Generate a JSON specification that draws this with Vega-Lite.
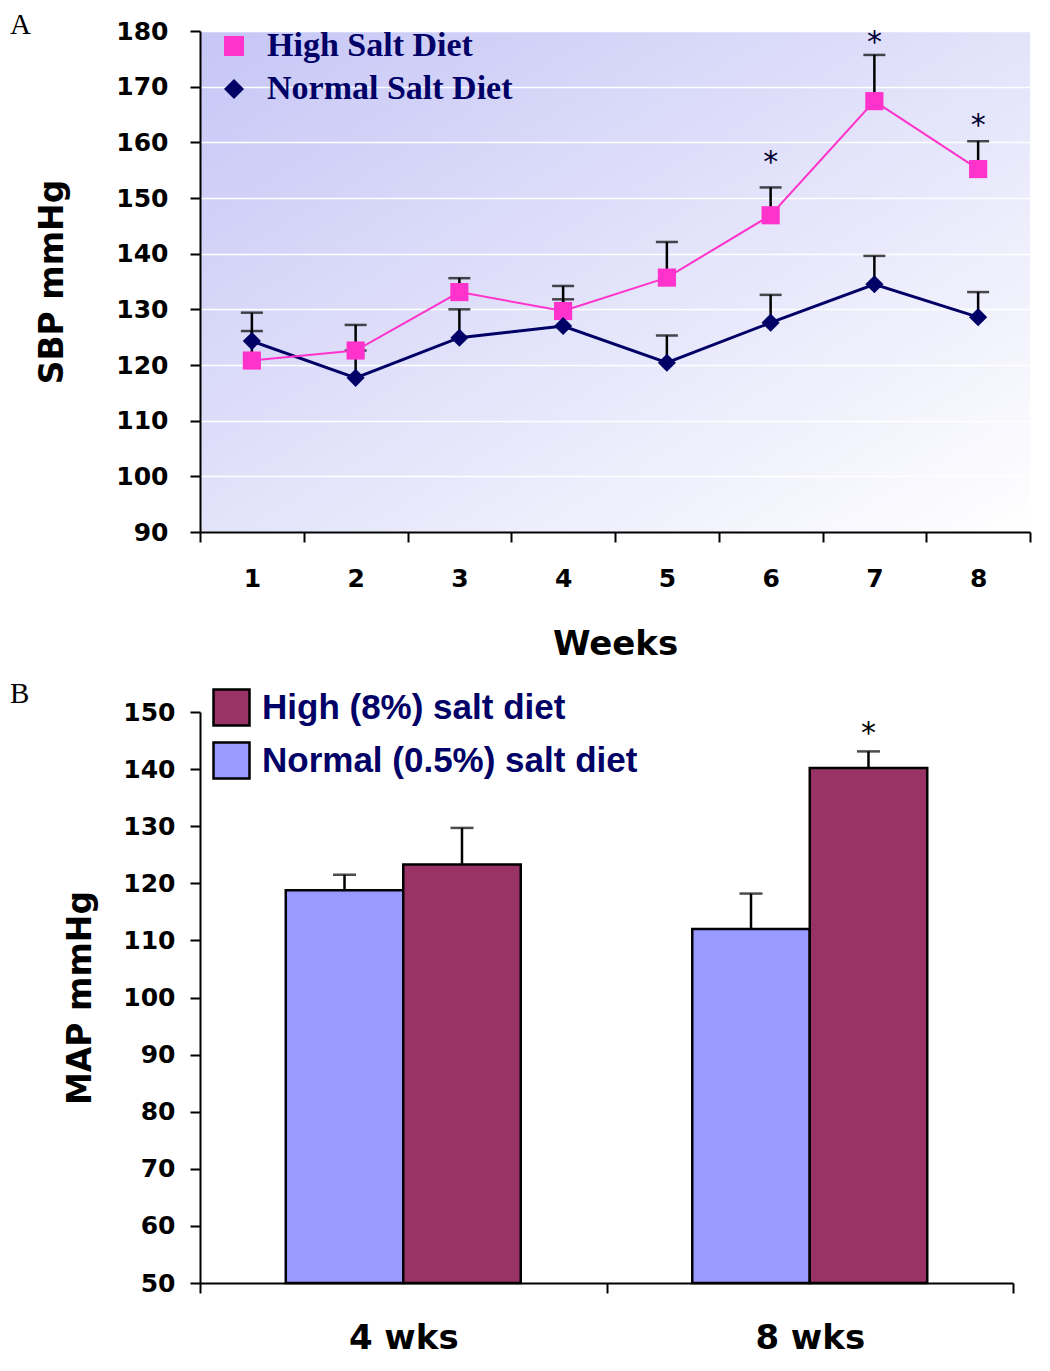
{
  "$schema": "https://vega.github.io/schema/vega-lite/v6.json",
  "background": "white",
  "padding": {"left": 10, "top": 11, "right": 10, "bottom": 5},
  "spacing": 19,
  "config": {
    "view": {"stroke": null},
    "axis": {
      "labelFont": "DejaVu Sans", "labelFontWeight": "bold", "labelColor": "black",
      "titleFont": "DejaVu Sans", "titleFontWeight": "bold", "titleColor": "black",
      "domainColor": "black", "tickColor": "black", "domainWidth": 2, "tickWidth": 2, "tickSize": 10,
      "labelAngle": 0
    },
    "title": {"font": "Liberation Serif", "fontWeight": "normal", "color": "black", "fontSize": 29, "baseline": "alphabetic"}
  },
  "resolve": {"scale": {"color": "independent", "shape": "independent", "x": "independent", "y": "independent"}},
  "vconcat": [
    {
      "width": 830,
      "height": 501,
      "title": {"text": "A", "anchor": "start", "frame": "group", "dx": -190, "offset": -3, "dy": 18},
      "view": {"fill": {"gradient": "linear", "x1": 0, "y1": 0, "x2": 1, "y2": 1, "stops": [{"offset": 0, "color": "#C6C6F6"}, {"offset": 1, "color": "#FFFFFF"}]}, "stroke": null},
      "data": {"values": [
        {"week": 1, "diet": "High Salt Diet", "sbp": 120.8, "errtop": 126.1},
        {"week": 2, "diet": "High Salt Diet", "sbp": 122.6, "errtop": 127.2},
        {"week": 3, "diet": "High Salt Diet", "sbp": 133.1, "errtop": 135.6},
        {"week": 4, "diet": "High Salt Diet", "sbp": 129.7, "errtop": 134.2},
        {"week": 5, "diet": "High Salt Diet", "sbp": 135.7, "errtop": 142.1},
        {"week": 6, "diet": "High Salt Diet", "sbp": 146.9, "errtop": 151.9, "star": 157.2},
        {"week": 7, "diet": "High Salt Diet", "sbp": 167.4, "errtop": 175.7, "star": 178.8},
        {"week": 8, "diet": "High Salt Diet", "sbp": 155.2, "errtop": 160.2, "star": 163.8},
        {"week": 1, "diet": "Normal Salt Diet", "sbp": 124.3, "errtop": 129.4},
        {"week": 2, "diet": "Normal Salt Diet", "sbp": 117.7, "errtop": 122.6},
        {"week": 3, "diet": "Normal Salt Diet", "sbp": 124.9, "errtop": 130.0},
        {"week": 4, "diet": "Normal Salt Diet", "sbp": 127.0, "errtop": 131.8},
        {"week": 5, "diet": "Normal Salt Diet", "sbp": 120.4, "errtop": 125.3},
        {"week": 6, "diet": "Normal Salt Diet", "sbp": 127.6, "errtop": 132.6},
        {"week": 7, "diet": "Normal Salt Diet", "sbp": 134.5, "errtop": 139.6},
        {"week": 8, "diet": "Normal Salt Diet", "sbp": 128.6, "errtop": 133.1}
      ]},
      "encoding": {
        "x": {
          "field": "week", "type": "ordinal",
          "scale": {"paddingInner": 0, "paddingOuter": 0},
          "axis": {"title": "Weeks", "titleFontSize": 34, "titlePadding": 36, "labelFontSize": 25, "labelPadding": 24, "tickBand": "extent", "grid": false}
        }
      },
      "layer": [
        {
          "mark": {"type": "rule", "color": "black", "strokeWidth": 2.5},
          "encoding": {
            "y": {"field": "sbp", "type": "quantitative", "scale": {"domain": [90, 180], "nice": false, "zero": false},
              "axis": {"title": "SBP mmHg", "titleFontSize": 33, "titlePadding": 46, "labelFontSize": 25, "labelPadding": 22,
                "values": [90, 100, 110, 120, 130, 140, 150, 160, 170, 180], "grid": true, "gridColor": "white", "gridWidth": 1.5, "gridOpacity": 1}},
            "y2": {"field": "errtop"}
          }
        },
        {
          "mark": {"type": "tick", "color": "black", "size": 22, "thickness": 2.5},
          "encoding": {"y": {"field": "errtop", "type": "quantitative"}}
        },
        {
          "transform": [{"filter": "datum.diet === 'Normal Salt Diet'"}],
          "mark": {"type": "line", "color": "#000066", "strokeWidth": 3},
          "encoding": {"y": {"field": "sbp", "type": "quantitative"}}
        },
        {
          "transform": [{"filter": "datum.diet === 'High Salt Diet'"}],
          "mark": {"type": "line", "color": "#FF33CC", "strokeWidth": 2},
          "encoding": {"y": {"field": "sbp", "type": "quantitative"}}
        },
        {
          "mark": {"type": "point", "filled": true, "opacity": 1, "size": 330},
          "encoding": {
            "y": {"field": "sbp", "type": "quantitative"},
            "color": {"field": "diet", "type": "nominal",
              "scale": {"domain": ["High Salt Diet", "Normal Salt Diet"], "range": ["#FF33CC", "#000066"]},
              "legend": {"title": null, "orient": "none", "legendX": 17, "legendY": -2, "labelFont": "Liberation Serif", "labelFontSize": 34, "labelFontWeight": "bold", "labelColor": "#000066", "labelLimit": 0, "symbolSize": 400, "rowPadding": 9, "labelOffset": 16, "padding": 0, "symbolOpacity": 1}},
            "shape": {"field": "diet", "type": "nominal",
              "scale": {"domain": ["High Salt Diet", "Normal Salt Diet"], "range": ["square", "diamond"]},
              "legend": {"title": null, "orient": "none", "legendX": 17, "legendY": -2, "labelFont": "Liberation Serif", "labelFontSize": 34, "labelFontWeight": "bold", "labelColor": "#000066", "labelLimit": 0, "symbolSize": 400, "rowPadding": 9, "labelOffset": 16, "padding": 0, "symbolOpacity": 1}}
          }
        },
        {
          "transform": [{"filter": "isValid(datum.star)"}],
          "mark": {"type": "text", "text": "*", "font": "DejaVu Sans", "fontSize": 30, "color": "#000033", "baseline": "middle", "dy": 5},
          "encoding": {"y": {"field": "star", "type": "quantitative"}}
        }
      ]
    },
    {
      "width": 813,
      "height": 571,
      "title": {"text": "B", "anchor": "start", "frame": "group", "dx": -190, "offset": 7, "dy": 28},
      "data": {"values": [
        {"period": "4 wks", "group": "Normal (0.5%) salt diet", "map": 118.8, "errtop": 121.5},
        {"period": "4 wks", "group": "High (8%) salt diet", "map": 123.3, "errtop": 129.7},
        {"period": "8 wks", "group": "Normal (0.5%) salt diet", "map": 112.0, "errtop": 118.2},
        {"period": "8 wks", "group": "High (8%) salt diet", "map": 140.2, "errtop": 143.1, "star": 147.6}
      ]},
      "encoding": {
        "x": {
          "field": "period", "type": "nominal",
          "scale": {"paddingInner": 0, "paddingOuter": 0},
          "axis": {"title": null, "labelFontSize": 34, "labelPadding": 28, "tickBand": "extent", "grid": false}
        },
        "xOffset": {"field": "group", "type": "nominal", "sort": ["Normal (0.5%) salt diet", "High (8%) salt diet"], "scale": {"paddingInner": 0, "paddingOuter": 0.73}}
      },
      "layer": [
        {
          "mark": {"type": "bar", "stroke": "black", "strokeWidth": 2.5, "opacity": 1},
          "encoding": {
            "y": {"field": "map", "type": "quantitative", "scale": {"domain": [50, 150], "nice": false, "zero": false},
              "axis": {"title": "MAP mmHg", "titleFontSize": 33, "titlePadding": 25, "labelFontSize": 25, "labelPadding": 15,
                "values": [50, 60, 70, 80, 90, 100, 110, 120, 130, 140, 150], "grid": false}},
            "y2": {"datum": 50},
            "color": {"field": "group", "type": "nominal",
              "scale": {"domain": ["High (8%) salt diet", "Normal (0.5%) salt diet"], "range": ["#993366", "#9999FF"]},
              "legend": {"title": null, "orient": "none", "legendX": 12, "legendY": -24, "labelFont": "Liberation Sans", "labelFontSize": 35, "labelFontWeight": "bold", "labelColor": "#000066", "labelLimit": 0, "symbolType": "square", "symbolSize": 1296, "symbolStrokeColor": "black", "symbolStrokeWidth": 2.5, "rowPadding": 6, "labelOffset": 11, "padding": 0, "symbolOpacity": 1}}
          }
        },
        {
          "mark": {"type": "rule", "color": "black", "strokeWidth": 2.5},
          "encoding": {
            "y": {"field": "map", "type": "quantitative"},
            "y2": {"field": "errtop"}
          }
        },
        {
          "mark": {"type": "tick", "color": "black", "size": 23, "thickness": 2.5},
          "encoding": {"y": {"field": "errtop", "type": "quantitative"}}
        },
        {
          "transform": [{"filter": "isValid(datum.star)"}],
          "mark": {"type": "text", "text": "*", "font": "DejaVu Sans", "fontSize": 30, "color": "black", "baseline": "middle", "dy": 8},
          "encoding": {"y": {"field": "star", "type": "quantitative"}}
        }
      ]
    }
  ]
}
